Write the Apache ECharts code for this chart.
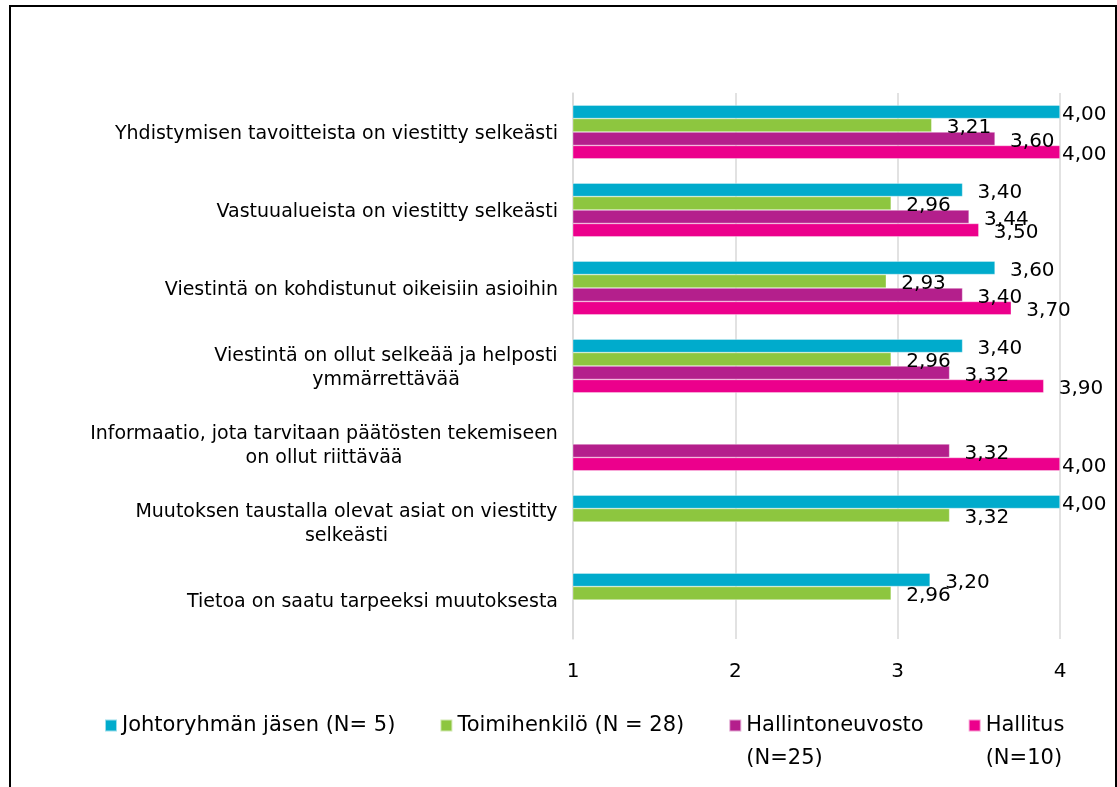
<!DOCTYPE html>
<html>
<head>
<meta charset="utf-8">
<script src="https://cdn.jsdelivr.net/npm/echarts@6/dist/echarts.min.js"></script>
<style>
html, body { margin: 0; padding: 0; background: #fff; }
#frame { position: absolute; left: 9px; top: 5px; width: 1108px; height: 800px; border: 2px solid #000; border-bottom: none; box-sizing: border-box; }
#chart { position: absolute; left: 0; top: 0; width: 1117px; height: 787px; }
</style>
</head>
<body>
<div id="frame"></div>
<div id="chart"></div>
<script>
// kysymykset (ylhäältä alas)
var categories = [
    'Yhdistymisen tavoitteista on viestitty selkeästi',
    'Vastuualueista on viestitty selkeästi',
    'Viestintä on kohdistunut oikeisiin asioihin',
    'Viestintä on ollut selkeää ja helposti\nymmärrettävää',
    'Informaatio, jota tarvitaan päätösten tekemiseen\non ollut riittävää',
    'Muutoksen taustalla olevat asiat on viestitty\nselkeästi',
    'Tietoa on saatu tarpeeksi muutoksesta'
];

var johtoryhma       = [4.00, 3.40, 3.60, 3.40, null, 4.00, 3.20];
var toimihenkilo     = [3.21, 2.96, 2.93, 2.96, null, 3.32, 2.96];
var hallintoneuvosto = [3.60, 3.44, 3.40, 3.32, 3.32, null, null];
var hallitus         = [4.00, 3.50, 3.70, 3.90, 4.00, null, null];

var seriesNames = ['Johtoryhmän jäsen (N= 5)', 'Toimihenkilö (N = 28)', 'Hallintoneuvosto\n(N=25)', 'Hallitus\n(N=10)'];
var seriesColors = ['#00abcc', '#8dc63f', '#b41f8c', '#ec008c'];
var xTicks = [1, 2, 3, 4];

var FONT = '"DejaVu Sans", Verdana, sans-serif';
var FS = 19;
var xMin = xTicks[0], xMax = xTicks[xTicks.length - 1];

// kaksiriviset otsikot keskitetään pisimmän rivin leveyteen
var ctx = document.createElement('canvas').getContext('2d');
ctx.font = FS + 'px ' + FONT;
var rich = {};
categories.forEach(function (c, i) {
    var lines = c.split('\n');
    if (lines.length > 1) {
        var w = Math.max.apply(null, lines.map(function (l) { return ctx.measureText(l).width; }));
        rich['c' + i] = { width: Math.ceil(w), align: 'center', fontSize: FS, fontFamily: FONT, color: '#000', lineHeight: 24 };
    }
});

function fmt(v) {
    return v.toFixed(2).replace('.', ',');
}

function toData(arr) {
    return arr.map(function (v) {
        if (v == null) return '-';
        // 4,00 arvot piirtyvät kiinni akselin reunaan kuten alkuperäisessä
        return v >= xMax ? { value: v, label: { distance: 2 } } : v;
    });
}

var allData = [johtoryhma, toimihenkilo, hallintoneuvosto, hallitus];

var series = allData.map(function (arr, i) {
    return {
        name: seriesNames[i],
        type: 'bar',
        data: toData(arr),
        barGap: '0%',
        barCategoryGap: '31%',
        itemStyle: { color: seriesColors[i], borderColor: 'rgba(255,255,255,0.6)', borderWidth: 0.6 },
        label: {
            show: true,
            position: 'right',
            distance: 15,
            offset: [0, 3],
            color: '#000',
            fontSize: 20,
            fontFamily: FONT,
            formatter: function (p) { return fmt(p.value); }
        },
        emphasis: { disabled: true }
    };
});

var myChart = echarts.init(document.getElementById('chart'));

var option = {
    animation: false,
    textStyle: { fontFamily: FONT },
    grid: { left: 573, right: 57, top: 93, bottom: 148, containLabel: false },
    xAxis: {
        type: 'value',
        min: xMin,
        max: xMax,
        interval: 1,
        axisLine: { show: false },
        axisTick: { show: false },
        splitLine: { show: true, lineStyle: { color: '#d9d9d9', width: 1.5 } },
        axisLabel: { color: '#000', fontSize: 20, fontFamily: FONT, margin: 23 }
    },
    yAxis: {
        type: 'category',
        inverse: true,
        data: categories,
        axisLine: { show: true, lineStyle: { color: '#d9d9d9', width: 1.5 } },
        axisTick: { show: false },
        axisLabel: {
            color: '#000',
            fontSize: FS,
            fontFamily: FONT,
            margin: 15,
            lineHeight: 24,
            padding: [5, 0, 0, 0],
            rich: rich,
            formatter: function (value, idx) {
                var lines = value.split('\n');
                if (lines.length < 2) return value;
                return lines.map(function (l) { return '{c' + idx + '|' + l + '}'; }).join('\n');
            }
        }
    },
    legend: {
        left: 104,
        top: 676,
        padding: 0,
        itemGap: 44,
        itemWidth: 12,
        itemHeight: 12,
        icon: 'rect',
        textStyle: { color: '#000', fontSize: 21, fontFamily: FONT, lineHeight: 33 },
        // kuvake ensimmäisen rivin kohdalle: tyhjä rivi yläpuolelle
        formatter: function (name) {
            return name.indexOf('\n') >= 0 ? ' \n' + name : name;
        },
        data: seriesNames
    },
    series: series
};

myChart.setOption(option);
</script>
</body>
</html>
